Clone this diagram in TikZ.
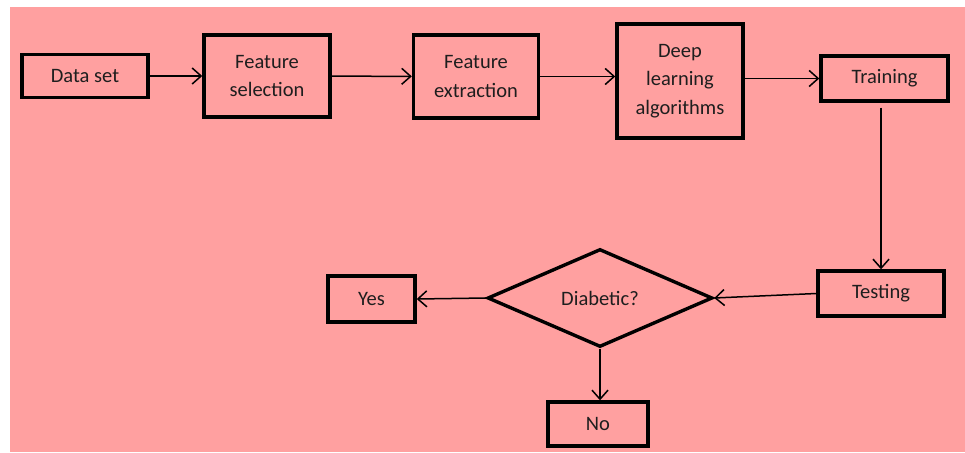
\documentclass[tikz,border=0pt]{standalone}
\usepackage{fontspec}
\setmainfont{Carlito}
\usetikzlibrary{shapes.geometric,arrows.meta}
\definecolor{bgpink}{RGB}{255,160,160}
\definecolor{inkgray}{RGB}{30,30,30}

\begin{document}
\begin{tikzpicture}
  [x=1pt,y=-1pt,
   every node/.style={text=inkgray,font=\fontsize{20.5}{28.5}\selectfont,align=center},
   stepbox/.style={draw=black,line width=3.4pt,inner sep=0pt},
   decision/.style={diamond,draw=black,line width=3.4pt,inner sep=0pt,aspect=2.3},
   flow/.style={-{Straight Barb[length=9pt,width=16pt]},line width=1.5pt,black}]
  \useasboundingbox (0,0) rectangle (965,452);
  \fill[white] (0,0) rectangle (965,452);
  \fill[bgpink] (10,7) rectangle (965,452);

  \node[stepbox,minimum width=126pt,minimum height=43pt] (ds) at (85,76) {Data set};
  \node[stepbox,minimum width=126pt,minimum height=82pt] (fs) at (267,76) {Feature\\selection};
  \node[stepbox,minimum width=125pt,minimum height=83pt] (fe) at (476,76.5) {Feature\\extraction};
  \node[stepbox,minimum width=126pt,minimum height=114pt] (dl) at (680,81) {Deep\\learning\\algorithms};
  \node[stepbox,minimum width=127pt,minimum height=45pt] (tr) at (884.5,78.5) {Training};
  \node[stepbox,minimum width=126pt,minimum height=45pt] (te) at (881,293.5) {Testing};
  \node[decision,minimum width=225pt,minimum height=98pt] (dia) at (600,298) {Diabetic?};
  \node[stepbox,minimum width=87pt,minimum height=46pt] (yes) at (371.5,299) {Yes};
  \node[stepbox,minimum width=100pt,minimum height=44pt] (no) at (598,424) {No};

  \draw[flow] (ds) -- (fs);
  \draw[flow] (fs) -- (fe);
  \draw[flow] (fe.east) -- (fe.east -| dl.west);
  \draw[flow] (dl.east |- tr.west) -- (tr.west);
  \draw[flow,shorten <=5pt] (tr.south -| te.north) -- (te.north);
  \draw[flow] (te.west) -- (dia.east);
  \draw[flow] (dia.west) -- (yes.east);
  \draw[flow] (dia.south) -- (dia.south |- no.north);

\end{tikzpicture}
\end{document}
